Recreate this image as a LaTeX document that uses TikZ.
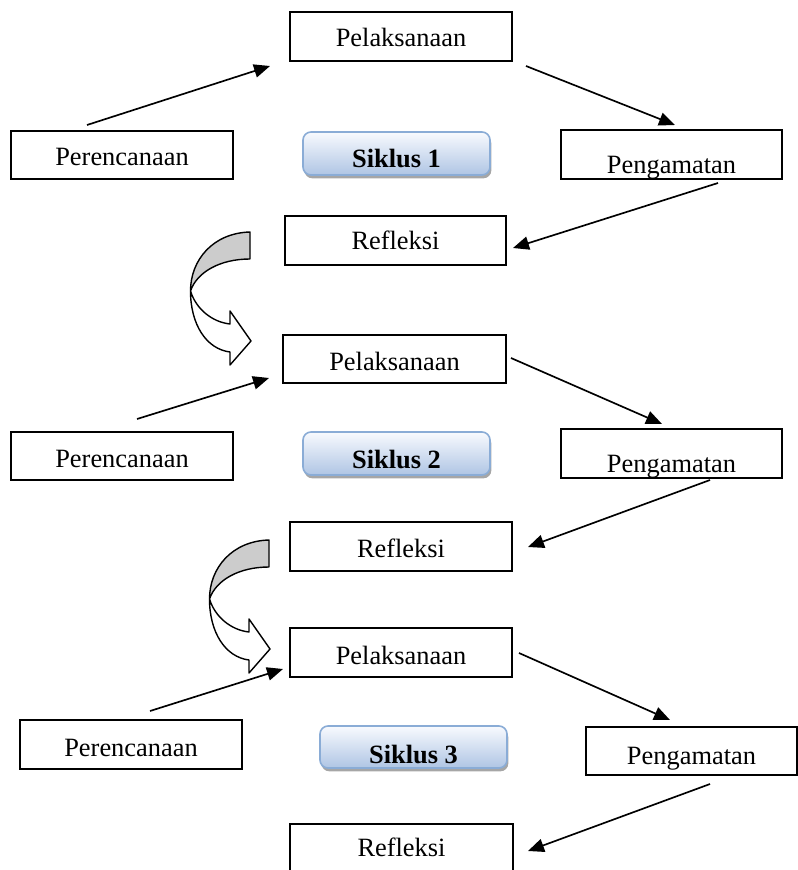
\documentclass[tikz,border=0pt]{standalone}
\usepackage{fontspec}
\setmainfont{Liberation Serif}
\usetikzlibrary{arrows.meta,shadows}
\definecolor{skborder}{HTML}{8AACD6}
\definecolor{sktop}{HTML}{F8FAFE}
\definecolor{skbot}{HTML}{AFC5E4}
\definecolor{curvgray}{HTML}{CCCCCC}
% #1 style, #2 x1, #3 y1, #4 x2, #5 y2, #6 name, #7 text, #8 baseline offset below centre (px)
\newcommand{\placebox}[8]{%
  \node[#1, minimum width={(#4-#2)*0.75pt}, minimum height={(#5-#3)*0.75pt},
        text height={2*#8*0.75pt}, text depth=0pt]
    (#6) at ({(#2+#4)/2},{(#3+#5)/2}) {#7};}
\begin{document}
\begin{tikzpicture}[x=0.75pt,y=-0.75pt,
  font=\fontsize{19.8}{24}\selectfont,
  box/.style={draw, line width=1.2pt, inner sep=0pt, rectangle},
  siklus/.style={draw=skborder, line width=1.2pt, rounded corners=6pt, inner sep=0pt,
     top color=sktop, bottom color=skbot,
     drop shadow={shadow xshift=1pt, shadow yshift=-2.5pt, opacity=0.35, fill=black},
     font=\fontsize{19.8}{24}\selectfont\bfseries},
  conn/.style={line width=1.25pt, -{Triangle[length=12pt,width=10pt]}},
  curv/.style={line width=1.05pt, line join=round}]
\useasboundingbox (0,0) rectangle (798,870);

% ---------- Siklus 1 ----------
\placebox{box}{290}{12}{512}{61}{p1}{Pelaksanaan}{10.5}
\placebox{box}{11}{131}{233}{179}{r1}{Perencanaan}{11}
\placebox{siklus}{303}{132}{490}{175}{s1}{Siklus 1}{13.5}
\placebox{box}{561}{130}{782}{179}{g1}{Pengamatan}{19}
\placebox{box}{285}{216}{506}{265}{f1}{Refleksi}{9}

% ---------- Siklus 2 ----------
\placebox{box}{283}{335}{506}{383}{p2}{Pelaksanaan}{11}
\placebox{box}{11}{432}{233}{480}{r2}{Perencanaan}{11}
\placebox{siklus}{303}{432}{490}{475}{s2}{Siklus 2}{14.5}
\placebox{box}{561}{429}{782}{478}{g2}{Pengamatan}{18.5}
\placebox{box}{290}{522}{512}{571}{f2}{Refleksi}{10.5}

% ---------- Siklus 3 ----------
\placebox{box}{290}{628}{512}{677}{p3}{Pelaksanaan}{11.5}
\placebox{box}{20}{720}{242}{769}{r3}{Perencanaan}{11.5}
\placebox{siklus}{320}{726}{507}{768}{s3}{Siklus 3}{16}
\placebox{box}{586}{727}{797}{775}{g3}{Pengamatan}{13}
\placebox{box}{290}{824}{513}{873}{f3}{Refleksi}{8}

% ---------- connector end points ----------
\coordinate (a1s) at (87,125);  \coordinate (a1e) at (270,66);
\coordinate (b1s) at (526,66);  \coordinate (b1e) at (675,125);
\coordinate (c1s) at (718,183); \coordinate (c1e) at (513,248);
\coordinate (a2s) at (137,419); \coordinate (a2e) at (269,378);
\coordinate (b2s) at (511,358); \coordinate (b2e) at (662,424);
\coordinate (c2s) at (710,480); \coordinate (c2e) at (528,547);
\coordinate (a3s) at (150,711); \coordinate (a3e) at (283,669);
\coordinate (b3s) at (519,653); \coordinate (b3e) at (670,720);
\coordinate (c3s) at (710,784); \coordinate (c3e) at (528,851);

\draw[conn] (a1s) -- (a1e);
\draw[conn] (b1s) -- (b1e);
\draw[conn] (c1s) -- (c1e);
\draw[conn] (a2s) -- (a2e);
\draw[conn] (b2s) -- (b2e);
\draw[conn] (c2s) -- (c2e);
\draw[conn] (a3s) -- (a3e);
\draw[conn] (b3s) -- (b3e);
\draw[conn] (c3s) -- (c3e);

% ---------- curved transition arrows ----------
\foreach \dx/\dy in {0/0, 19/308}{
  \begin{scope}[shift={(\dx,\dy)}]
    % white front band with head
    \draw[curv, fill=white]
      (190.5,291) .. controls (196,309) and (212,322) .. (230,324)
      -- (230,311) -- (251,341) -- (230,365) -- (230,352)
      .. controls (206,349) and (190.5,324) .. (190.5,291) -- cycle;
    % grey back band
    \draw[curv, fill=curvgray]
      (250,232) .. controls (213,233) and (190.5,260) .. (190.5,291)
      .. controls (197,272) and (220,259) .. (250,259) -- cycle;
  \end{scope}
}
\end{tikzpicture}
\end{document}
